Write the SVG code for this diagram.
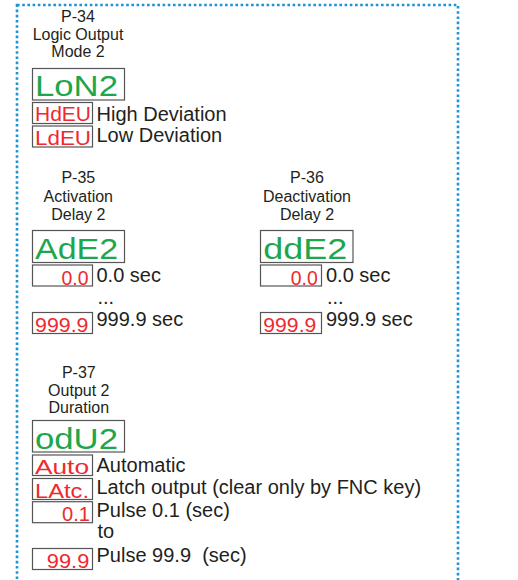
<svg xmlns="http://www.w3.org/2000/svg" width="518" height="580" viewBox="0 0 518 580">
<style>
.frame{fill:none;stroke:#1b95d3;stroke-width:2.6;stroke-dasharray:2.6 2.6}
.box{fill:#fff;stroke:#555;stroke-width:1.2}
.hdr{font-family:"Liberation Sans",Arial,sans-serif;font-size:16px;fill:#231f20;text-anchor:middle}
.lbl{font-family:"Liberation Sans",Arial,sans-serif;font-size:20px;fill:#231f20}
.ledg{font-family:"Liberation Sans",Arial,sans-serif;font-size:30px;fill:#1ea64c}
.ledr{font-family:"Liberation Sans",Arial,sans-serif;font-size:21px;fill:#ee2a2e}
.end{text-anchor:end}
</style>
<rect class="frame" x="17" y="5" width="441" height="600"/>
<g id="connectors"/>
<g id="p34">
  <text class="hdr" x="78" y="21.7">P-34</text>
  <text class="hdr" x="78" y="39.5">Logic Output</text>
  <text class="hdr" x="78" y="57.3">Mode 2</text>
  <g id="p34-display"><rect class="box" x="32.5" y="68.5" width="92" height="31.5"/><text class="ledg" x="35" y="95.5" textLength="83" lengthAdjust="spacingAndGlyphs">LoN2</text></g>
  <g id="p34-hdeu"><rect class="box" x="32.5" y="102.5" width="60" height="21"/><text class="ledr" x="35" y="121" textLength="56" lengthAdjust="spacingAndGlyphs">HdEU</text><text class="lbl" x="96.5" y="120.7">High Deviation</text></g>
  <g id="p34-ldeu"><rect class="box" x="32.5" y="126" width="60" height="21"/><text class="ledr" x="35" y="144.5" textLength="56" lengthAdjust="spacingAndGlyphs">LdEU</text><text class="lbl" x="96.5" y="142">Low Deviation</text></g>
</g>
<g id="p35">
  <text class="hdr" x="78.3" y="183.3">P-35</text>
  <text class="hdr" x="78.3" y="202.3">Activation</text>
  <text class="hdr" x="78.3" y="220">Delay 2</text>
  <g id="p35-display"><rect class="box" x="32.5" y="230.5" width="92" height="32"/><text class="ledg" x="35" y="258.5" textLength="83" lengthAdjust="spacingAndGlyphs">AdE2</text></g>
  <g id="p35-min"><rect class="box" x="32.5" y="265" width="60" height="21"/><text class="ledr end" x="88.5" y="284.5" textLength="27" lengthAdjust="spacingAndGlyphs">0.0</text><text class="lbl" x="96.5" y="281.7">0.0 sec</text></g>
  <text class="lbl" x="97.5" y="304">...</text>
  <g id="p35-max"><rect class="box" x="32.5" y="312.5" width="60" height="21"/><text class="ledr" x="35" y="331.5" textLength="53.5" lengthAdjust="spacingAndGlyphs">999.9</text><text class="lbl" x="96.5" y="326">999.9 sec</text></g>
</g>
<g id="p36">
  <text class="hdr" x="307" y="183.3">P-36</text>
  <text class="hdr" x="307" y="202.3">Deactivation</text>
  <text class="hdr" x="307" y="220">Delay 2</text>
  <g id="p36-display"><rect class="box" x="260.5" y="230.5" width="92.5" height="32"/><text class="ledg" x="263.3" y="258.5" textLength="84" lengthAdjust="spacingAndGlyphs">ddE2</text></g>
  <g id="p36-min"><rect class="box" x="260.5" y="265" width="61" height="21"/><text class="ledr end" x="317.7" y="284.5" textLength="27" lengthAdjust="spacingAndGlyphs">0.0</text><text class="lbl" x="326" y="281.7">0.0 sec</text></g>
  <text class="lbl" x="327" y="304">...</text>
  <g id="p36-max"><rect class="box" x="260.5" y="312.5" width="61" height="21"/><text class="ledr" x="263.3" y="331.5" textLength="53" lengthAdjust="spacingAndGlyphs">999.9</text><text class="lbl" x="326" y="326">999.9 sec</text></g>
</g>
<g id="p37">
  <text class="hdr" x="78.8" y="378.3">P-37</text>
  <text class="hdr" x="78.8" y="396">Output 2</text>
  <text class="hdr" x="78.8" y="413.3">Duration</text>
  <g id="p37-display"><rect class="box" x="32.5" y="420.5" width="92" height="31.5"/><text class="ledg" x="35" y="448.5" textLength="83" lengthAdjust="spacingAndGlyphs">odU2</text></g>
  <g id="p37-auto"><rect class="box" x="32.5" y="455" width="60" height="20.5"/><text class="ledr" x="35" y="474" textLength="54" lengthAdjust="spacingAndGlyphs">Auto</text><text class="lbl" x="96.5" y="471.7">Automatic</text></g>
  <g id="p37-latch"><rect class="box" x="32.5" y="478.5" width="60" height="21"/><text class="ledr" x="35" y="497.5" textLength="54" lengthAdjust="spacingAndGlyphs">LAtc.</text><text class="lbl" x="96.5" y="494.3">Latch output (clear only by FNC key)</text></g>
  <g id="p37-pmin"><rect class="box" x="32.5" y="501.7" width="60" height="21"/><text class="ledr end" x="90" y="521" textLength="28" lengthAdjust="spacingAndGlyphs">0.1</text><text class="lbl" x="96.5" y="517.3">Pulse 0.1 (sec)</text></g>
  <text class="lbl" x="97.5" y="538.3">to</text>
  <g id="p37-pmax"><rect class="box" x="32.5" y="548.5" width="60" height="21"/><text class="ledr end" x="89.3" y="567.5" textLength="42.5" lengthAdjust="spacingAndGlyphs">99.9</text><text class="lbl" x="96.5" y="561.7" xml:space="preserve">Pulse 99.9  (sec)</text></g>
</g>
</svg>
